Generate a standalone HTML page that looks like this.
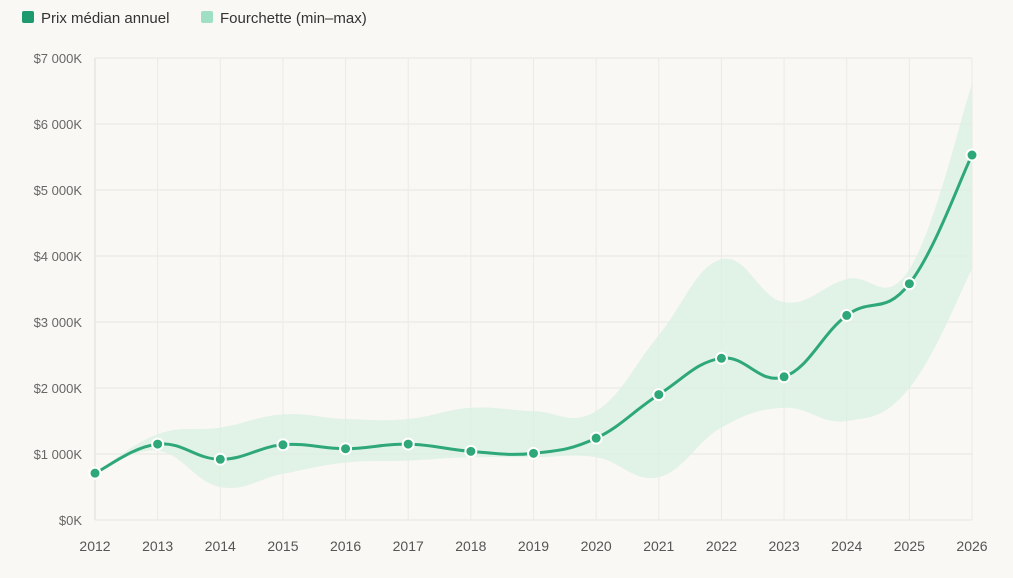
<!DOCTYPE html>
<html><head><meta charset="utf-8"><style>
html,body{margin:0;padding:0;background:#f9f8f4;}
body{width:1013px;height:573px;overflow:hidden;font-family:"Liberation Sans",sans-serif;}
</style></head><body>
<svg id="c" width="1013" height="573" xmlns="http://www.w3.org/2000/svg">
<rect x="22" y="11" width="12" height="12" rx="2" fill="#1f9a6e"/>
<text x="41" y="23" font-size="15" fill="#333">Prix médian annuel</text>
<rect x="201" y="11" width="12" height="12" rx="2" fill="#9fdfc4"/>
<text x="220" y="23" font-size="15" fill="#333">Fourchette (min–max)</text>
<g id="grid"></g>
<path id="band" fill="#dbf0e3" fill-opacity="0.8"/>
<path id="line" fill="none" stroke="#2ea878" stroke-width="3"/>
<g id="pts"></g>
</svg>
<script>
var x0=95,dx=(972-95)/14,y0=520,k=66/1000;
function X(i){return x0+i*dx}function Y(v){return y0-v*k}
var med=[710,1150,920,1140,1080,1150,1040,1010,1240,1900,2450,2170,3100,3580,5530];
var up=[710,1300,1400,1600,1530,1530,1700,1650,1650,2800,3950,3300,3650,3800,6600];
var lo=[710,1050,500,700,870,900,950,950,950,650,1400,1700,1500,2000,3800];
var g='',ns='';
for(var v=0;v<=7;v++){var y=Y(v*1000);g+='<line x1="95" x2="972" y1="'+y+'" y2="'+y+'" stroke="#e8e7e2"/>';
g+='<text x="82" y="'+(y+5)+'" font-size="13" fill="#666" text-anchor="end">$'+(v?v+' 000K':'0K')+'</text>';}
for(var i=0;i<15;i++){var x=X(i);g+='<line x1="'+x+'" x2="'+x+'" y1="58" y2="520" stroke="'+(i==0?'#ddd':'#eceae5')+'"/>';
g+='<text x="'+x+'" y="551" font-size="14" fill="#555" text-anchor="middle">'+(2012+i)+'</text>';}
document.getElementById('grid').innerHTML=g;
function pts(a){return a.map(function(v,i){return [X(i),Y(v)]})}
function spline(p,start){var t=0.4,d=start?'M'+p[0][0]+','+p[0][1]:'L'+p[0][0]+','+p[0][1];
for(var i=0;i<p.length-1;i++){var a=p[Math.max(i-1,0)],b=p[i],c=p[i+1],e=p[Math.min(i+2,p.length-1)];
var c1=[b[0]+(c[0]-a[0])*t/2,b[1]+(c[1]-a[1])*t/2],c2=[c[0]-(e[0]-b[0])*t/2,c[1]-(e[1]-b[1])*t/2];
d+=' C'+c1+' '+c2+' '+c;}return d;}
document.getElementById('line').setAttribute('d',spline(pts(med),1));
document.getElementById('band').setAttribute('d',spline(pts(up),1)+' '+spline(pts(lo).reverse(),0)+'Z');
var s='';pts(med).forEach(function(p){s+='<circle cx="'+p[0]+'" cy="'+p[1]+'" r="5.5" fill="#2ea878" stroke="#fff" stroke-width="2"/>'});
document.getElementById('pts').innerHTML=s;
</script>
</body></html>
